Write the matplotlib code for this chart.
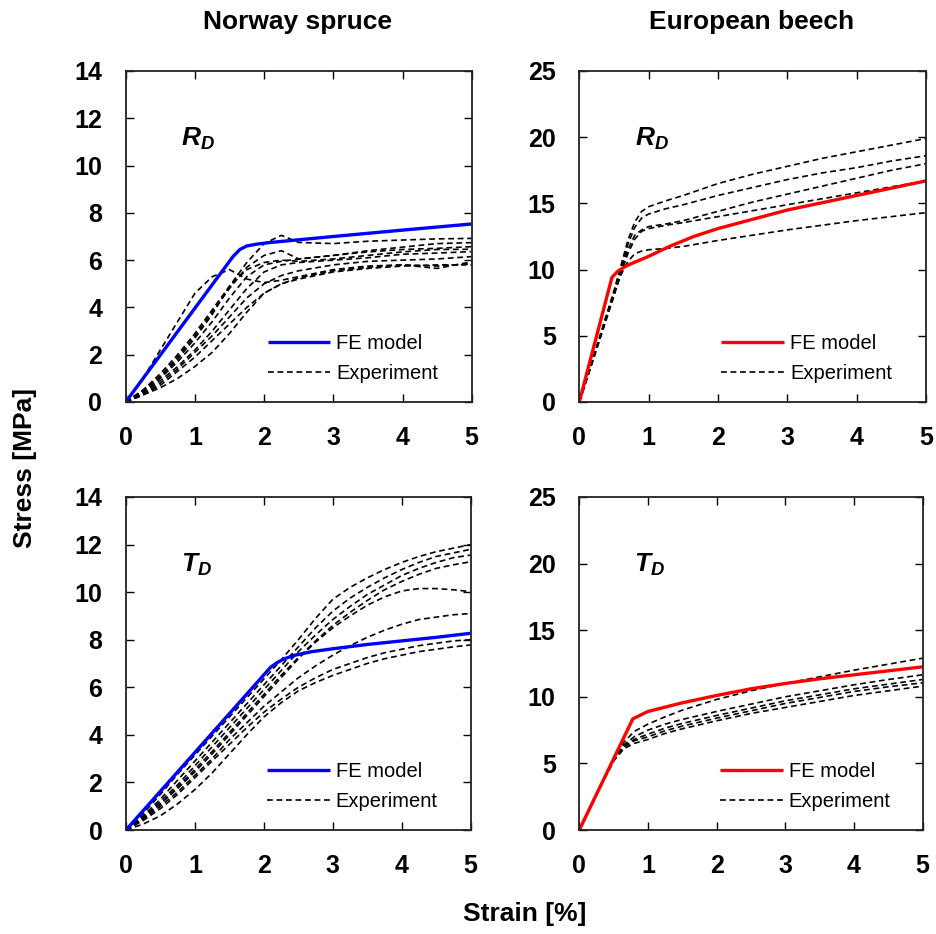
import matplotlib.pyplot as plt
import numpy as np

plt.rcParams['font.family'] = ['Liberation Sans', 'DejaVu Sans']
plt.rcParams['mathtext.fontset'] = 'custom'
plt.rcParams['mathtext.it'] = 'Liberation Sans:italic:bold'
plt.rcParams['mathtext.rm'] = 'Liberation Sans:bold'

# ---- Norway spruce, R_D ----
ns_rd_fe_x = [0, 1.55, 1.65, 1.75, 1.9, 2.1, 3.0, 4.0, 5.0]
ns_rd_fe_y = [0, 6.15, 6.45, 6.6, 6.68, 6.75, 7.0, 7.27, 7.53]
ns_rd_exp_x = [0, 0.25, 0.5, 0.75, 1.0, 1.25, 1.5, 1.75, 2.0, 2.25, 2.5, 3.0, 3.5, 4.0, 4.5, 5.0]
ns_rd_exp = [
    [0, 1.0, 2.2, 3.4, 4.6, 5.3, 5.6, 5.2, 5.05, 5.15, 5.3, 5.6, 5.75, 5.8, 5.75, 5.85],
    [0, 0.5, 1.2, 2.0, 2.9, 3.9, 4.9, 5.9, 6.7, 7.05, 6.75, 6.7, 6.8, 6.85, 6.9, 6.92],
    [0, 0.5, 1.1, 1.9, 2.8, 3.8, 4.8, 5.7, 6.2, 6.4, 6.05, 6.2, 6.4, 6.55, 6.7, 6.74],
    [0, 0.4, 1.0, 1.7, 2.5, 3.4, 4.4, 5.3, 5.8, 5.95, 6.05, 6.2, 6.35, 6.45, 6.5, 6.57],
    [0, 0.45, 1.05, 1.8, 2.7, 3.7, 4.9, 5.6, 5.9, 6.0, 5.95, 6.05, 6.2, 6.35, 6.45, 6.46],
    [0, 0.35, 0.9, 1.5, 2.2, 3.0, 3.9, 4.8, 5.5, 5.8, 5.9, 6.0, 6.1, 6.25, 6.3, 6.36],
    [0, 0.3, 0.8, 1.4, 2.1, 2.8, 3.6, 4.4, 5.0, 5.35, 5.55, 5.8, 5.95, 6.0, 6.05, 6.15],
    [0, 0.3, 0.7, 1.3, 1.9, 2.6, 3.3, 4.0, 4.6, 5.0, 5.25, 5.55, 5.7, 5.8, 5.65, 5.93],
    [0, 0.3, 0.6, 1.0, 1.5, 2.1, 2.9, 3.8, 4.6, 5.0, 5.2, 5.5, 5.65, 5.75, 5.8, 5.8],
]

# ---- European beech, R_D ----
eb_rd_fe_x = [0, 0.47, 0.55, 0.65, 0.75, 1.0, 1.3, 1.65, 2.0, 2.5, 3.0, 3.5, 4.0, 4.5, 5.0]
eb_rd_fe_y = [0, 9.4, 9.85, 10.2, 10.45, 11.0, 11.75, 12.5, 13.1, 13.8, 14.5, 15.05, 15.6, 16.15, 16.7]
eb_rd_exp_x = [0, 0.25, 0.5, 0.6, 0.7, 0.8, 0.9, 1.0, 1.25, 1.5, 2.0, 2.5, 3.0, 3.5, 4.0, 4.5, 5.0]
eb_rd_exp = [
    [0, 4.2, 8.4, 10.3, 12.2, 13.6, 14.4, 14.75, 15.2, 15.6, 16.5, 17.2, 17.8, 18.4, 18.9, 19.4, 19.9],
    [0, 4.1, 8.3, 10.1, 11.9, 13.2, 13.9, 14.2, 14.6, 14.9, 15.6, 16.2, 16.8, 17.3, 17.7, 18.2, 18.6],
    [0, 4.0, 8.1, 9.9, 11.5, 12.6, 13.0, 13.25, 13.45, 13.7, 14.4, 15.1, 15.7, 16.3, 16.9, 17.5, 18.0],
    [0, 4.0, 8.0, 9.7, 11.2, 12.3, 12.9, 13.1, 13.35, 13.55, 14.0, 14.45, 14.9, 15.35, 15.8, 16.25, 16.7],
    [0, 4.1, 8.2, 9.6, 10.6, 11.2, 11.4, 11.5, 11.6, 11.75, 12.2, 12.6, 13.0, 13.35, 13.7, 14.0, 14.3],
]

# ---- Norway spruce, T_D ----
ns_td_fe_x = [0, 2.1, 2.2, 2.3, 2.45, 2.7, 3.0, 3.5, 4.0, 4.5, 5.0]
ns_td_fe_y = [0, 6.85, 7.05, 7.2, 7.35, 7.5, 7.62, 7.8, 7.95, 8.1, 8.27]
ns_td_exp_x = [0, 0.25, 0.5, 0.75, 1.0, 1.25, 1.5, 1.75, 2.0, 2.25, 2.5, 2.75,
               3.0, 3.25, 3.5, 3.75, 4.0, 4.25, 4.5, 4.75, 5.0]
ns_td_exp = [
    [0, 0.7, 1.5, 2.35, 3.15, 3.95, 4.75, 5.55, 6.35, 7.15, 8.0, 8.9, 9.7, 10.2, 10.6, 10.95, 11.25, 11.5, 11.7, 11.85, 12.0],
    [0, 0.6, 1.3, 2.1, 2.9, 3.7, 4.5, 5.3, 6.1, 6.9, 7.7, 8.5, 9.2, 9.75, 10.2, 10.6, 10.95, 11.25, 11.5, 11.65, 11.8],
    [0, 0.55, 1.2, 1.9, 2.7, 3.5, 4.3, 5.1, 5.9, 6.7, 7.5, 8.2, 8.85, 9.4, 9.9, 10.3, 10.7, 11.0, 11.25, 11.45, 11.56],
    [0, 0.5, 1.1, 1.8, 2.55, 3.3, 4.1, 4.9, 5.7, 6.5, 7.25, 7.95, 8.6, 9.15, 9.65, 10.1, 10.45, 10.75, 11.0, 11.15, 11.28],
    [0, 0.5, 1.1, 1.75, 2.45, 3.2, 4.0, 4.8, 5.6, 6.4, 7.2, 7.9, 8.5, 9.0, 9.45, 9.8, 10.05, 10.15, 10.15, 10.1, 10.02],
    [0, 0.45, 1.0, 1.6, 2.3, 3.0, 3.8, 4.5, 5.2, 5.8, 6.4, 6.9, 7.35, 7.75, 8.1, 8.4, 8.65, 8.85, 8.95, 9.05, 9.1],
    [0, 0.4, 0.9, 1.5, 2.2, 2.9, 3.6, 4.3, 4.95, 5.5, 6.0, 6.4, 6.75, 7.0, 7.25, 7.45, 7.6, 7.75, 7.85, 7.95, 8.0],
    [0, 0.25, 0.6, 1.1, 1.7, 2.4, 3.2, 4.0, 4.75, 5.35, 5.85, 6.2, 6.5, 6.75, 7.0, 7.2, 7.35, 7.5, 7.6, 7.7, 7.78],
]

# ---- European beech, T_D ----
eb_td_fe_x = [0, 0.78, 0.9, 1.0, 1.5, 2.0, 2.5, 3.0, 3.5, 4.0, 4.5, 5.0]
eb_td_fe_y = [0, 8.35, 8.65, 8.9, 9.55, 10.1, 10.6, 11.0, 11.35, 11.65, 11.95, 12.25]
eb_td_exp_x = [0, 0.25, 0.5, 0.65, 0.8, 1.0, 1.25, 1.5, 2.0, 2.5, 3.0, 3.5, 4.0, 4.5, 5.0]
eb_td_exp = [
    [0, 2.7, 5.3, 6.6, 7.4, 7.95, 8.5, 9.0, 9.8, 10.45, 11.0, 11.5, 12.0, 12.45, 12.9],
    [0, 2.7, 5.2, 6.4, 7.0, 7.5, 7.95, 8.3, 8.9, 9.45, 10.0, 10.45, 10.9, 11.3, 11.65],
    [0, 2.7, 5.2, 6.3, 6.8, 7.2, 7.65, 8.0, 8.6, 9.15, 9.7, 10.15, 10.6, 10.95, 11.3],
    [0, 2.7, 5.2, 6.2, 6.7, 7.0, 7.45, 7.8, 8.4, 8.95, 9.5, 9.95, 10.4, 10.75, 11.05],
    [0, 2.7, 5.2, 6.1, 6.5, 6.8, 7.25, 7.6, 8.2, 8.75, 9.2, 9.65, 10.1, 10.45, 10.8],
]

W, H = 937, 934
fig = plt.figure(figsize=(W / 100, H / 100), dpi=100)


def px_axes(left, top, right, bottom):
    return fig.add_axes([left / W, 1 - bottom / H, (right - left) / W, (bottom - top) / H])


panels = [
    # (box px, fe x, fe y, exp x, exp list, color, ymax, ystep, label)
    ((125.7, 71, 471.7, 402), ns_rd_fe_x, ns_rd_fe_y, ns_rd_exp_x, ns_rd_exp, '#0000ff', 14, 2, r'$R_D$'),
    ((579.3, 71, 926, 402), eb_rd_fe_x, eb_rd_fe_y, eb_rd_exp_x, eb_rd_exp, '#ff0000', 25, 5, r'$R_D$'),
    ((126, 497, 470.7, 830), ns_td_fe_x, ns_td_fe_y, ns_td_exp_x, ns_td_exp, '#0000ff', 14, 2, r'$T_D$'),
    ((579.3, 497, 922.7, 830), eb_td_fe_x, eb_td_fe_y, eb_td_exp_x, eb_td_exp, '#ff0000', 25, 5, r'$T_D$'),
]

for box, fx, fy, ex, exps, col, ymax, ystep, lab in panels:
    ax = px_axes(*box)
    for i, ey in enumerate(exps):
        ax.plot(ex, ey, color='black', lw=1.2, dashes=(3.5, 2.2),
                label='Experiment' if i == 0 else None)
    fe, = ax.plot(fx, fy, color=col, lw=2.4, solid_capstyle='butt')
    fe.set_label('FE model')
    ax.set_xlim(0, 5)
    ax.set_ylim(0, ymax)
    ax.set_xticks(np.arange(0, 6, 1))
    ax.set_yticks(np.arange(0, ymax + 0.1, ystep))
    ax.tick_params(direction='in', top=True, right=True, length=6, width=1,
                   labelsize=18, pad=17)
    for t in ax.get_xticklabels() + ax.get_yticklabels():
        t.set_fontweight('bold')
    for s in ax.spines.values():
        s.set_linewidth(1.3)
        s.set_color('#222222')
    ax.text(0.16, 0.795, lab, transform=ax.transAxes, fontsize=19,
            ha='left', va='center')
    handles, labels = ax.get_legend_handles_labels()
    order = [labels.index('FE model'), labels.index('Experiment')]
    ax.legend([handles[k] for k in order], [labels[k] for k in order],
              loc='upper left', bbox_to_anchor=(0.41, 0.205), frameon=False,
              fontsize=14.5, handlelength=3.1, handletextpad=0.3,
              labelspacing=0.55, borderpad=0, borderaxespad=0)

fig.text(298 / W, 1 - 22 / H, 'Norway spruce', ha='center', va='center',
         fontsize=19, fontweight='bold')
fig.text(752 / W, 1 - 22 / H, 'European beech', ha='center', va='center',
         fontsize=19, fontweight='bold')
fig.text(25 / W, 1 - 468 / H, 'Stress [MPa]', ha='center', va='center',
         rotation=90, fontsize=19, fontweight='bold')
fig.text(525 / W, 1 - 914 / H, 'Strain [%]', ha='center', va='center',
         fontsize=19, fontweight='bold')

fig.savefig('out.png', dpi=100)
